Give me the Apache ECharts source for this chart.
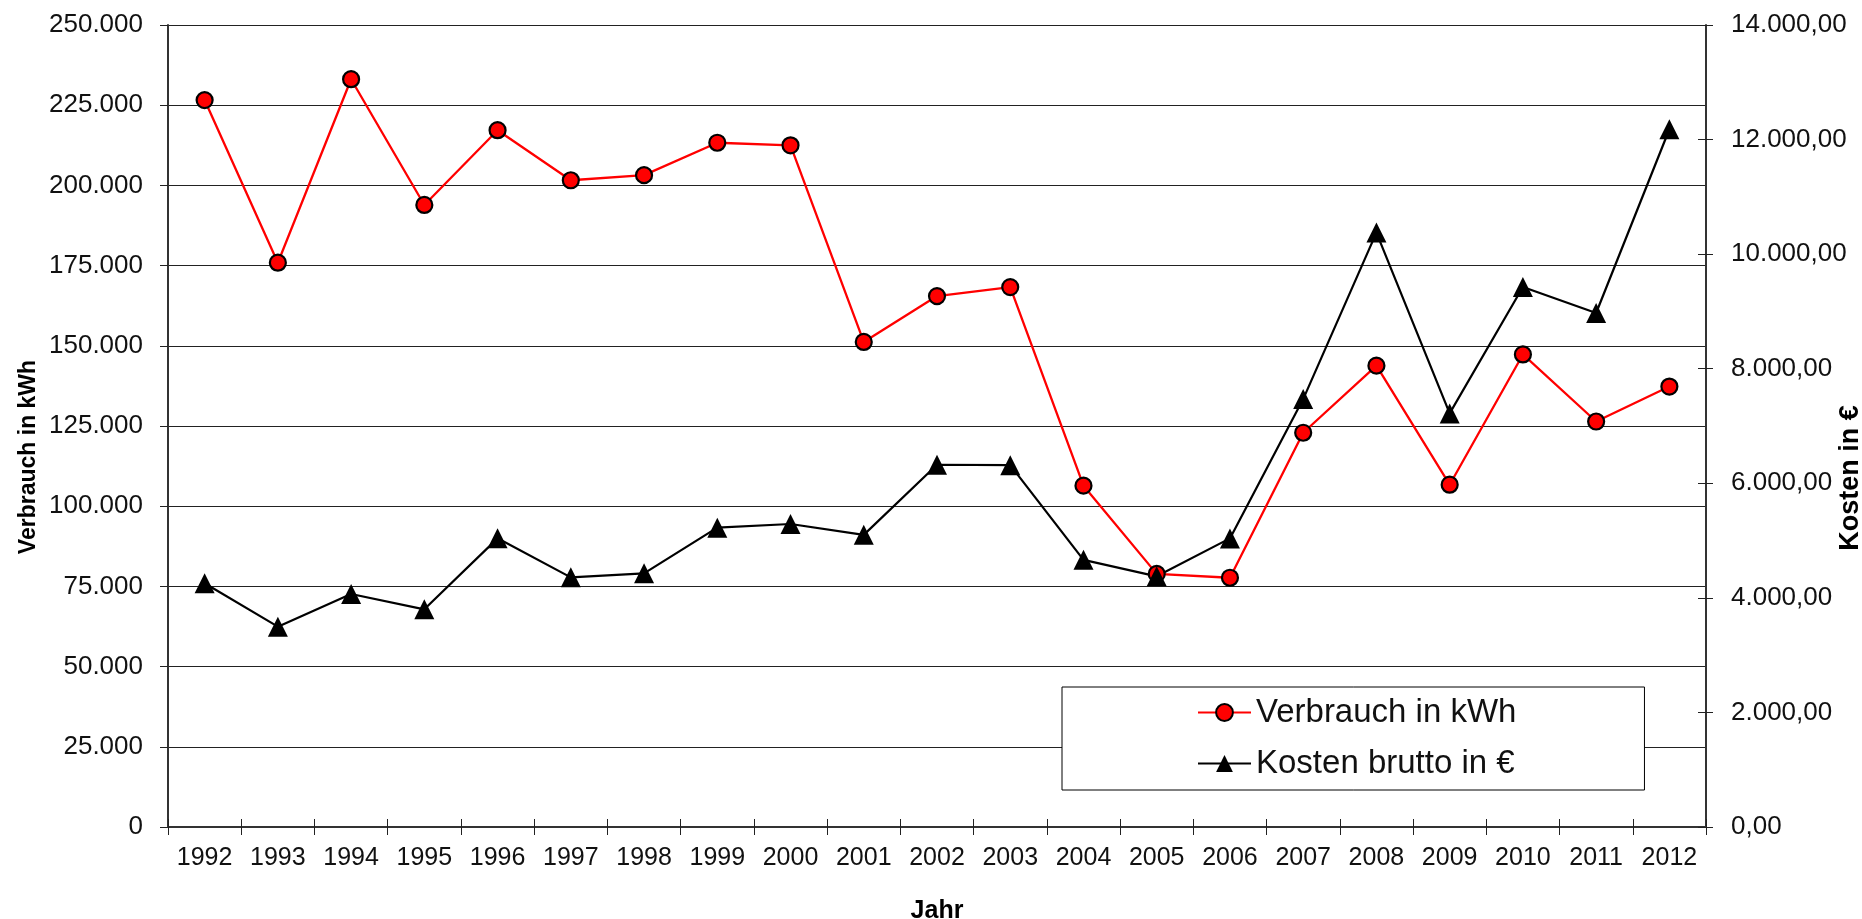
<!DOCTYPE html>
<html>
<head>
<meta charset="utf-8">
<script src="https://cdn.jsdelivr.net/npm/echarts@6/dist/echarts.min.js"></script>
<style>
html,body{margin:0;padding:0;background:#fff;}
#chart{width:1862px;height:919px;}
</style>
</head>
<body>
<div id="chart"></div>
<script>
const years = ['1992','1993','1994','1995','1996','1997','1998','1999','2000','2001','2002','2003','2004','2005','2006','2007','2008','2009','2010','2011','2012'];
const verbrauch = [226600, 175900, 233100, 193900, 217200, 201600, 203200, 213300, 212500, 151200, 165500, 168300, 106400, 78900, 77700, 122900, 143800, 106700, 147300, 126400, 137300];
const kosten = [4254, 3497, 4067, 3800, 5039, 4358, 4428, 5225, 5289, 5100, 6324, 6316, 4664, 4376, 5038, 7470, 10376, 7220, 9426, 8973, 12180];
const seriesNames = ['Verbrauch in kWh', 'Kosten brutto in €'];
const axisNames = { x: 'Jahr', left: 'Verbrauch in kWh', right: 'Kosten in €' };

const FONT = "'Liberation Sans', Arial, Helvetica, sans-serif";

function groupThousands(n) {
  const s = String(Math.round(Math.abs(n)));
  return (n < 0 ? '-' : '') + s.replace(/\B(?=(\d{3})+(?!\d))/g, '.');
}
function fmtLeft(v) { return groupThousands(v); }
function fmtRight(v) {
  const whole = Math.floor(v);
  const cents = Math.round((v - whole) * 100);
  return groupThousands(whole) + ',' + String(cents).padStart(2, '0');
}

const chart = echarts.init(document.getElementById('chart'), null, { renderer: 'canvas' });
const axisLineStyle = { color: '#333', width: 2 };
const labelStyle = { fontFamily: FONT, fontSize: 25, color: '#111' };
const yLabelStyle = { fontFamily: FONT, fontSize: 26, color: '#111' };
const nameStyle = { fontFamily: FONT, fontWeight: 'bold', color: '#000' };

chart.setOption({
  animation: false,
  backgroundColor: '#fff',
  grid: { left: 168, right: 156, top: 25, bottom: 92, containLabel: false, outerBoundsMode: 'none' },
  legend: {
    orient: 'vertical',
    left: 1062, top: 687,
    padding: [9, 128, 10, 135],
    itemGap: 18, itemWidth: 53, itemHeight: 21,
    backgroundColor: '#fff', borderColor: '#000', borderWidth: 1,
    textStyle: { fontFamily: FONT, fontSize: 33, color: '#111', lineHeight: 32 },
    data: seriesNames
  },
  xAxis: [{
    type: 'category', data: years, boundaryGap: true, position: 'bottom',
    name: axisNames.x, nameLocation: 'middle', nameGap: 72, nameMoveOverlap: false,
    nameTextStyle: Object.assign({ fontSize: 25 }, nameStyle),
    axisLine: { show: true, lineStyle: axisLineStyle },
    axisTick: { show: true, interval: 0, alignWithLabel: false, inside: false, length: 8, lineStyle: { color: '#222', width: 1 } },
    axisLabel: Object.assign({ interval: 0, margin: 19 }, labelStyle),
    splitLine: { show: false }
  }, {
    type: 'category', data: years, boundaryGap: true, position: 'bottom', offset: 0,
    axisLine: { show: false },
    axisTick: { show: true, interval: 0, alignWithLabel: false, inside: true, length: 8, lineStyle: { color: '#222', width: 1 } },
    axisLabel: { show: false },
    splitLine: { show: false }
  }],
  yAxis: [{
    type: 'value', position: 'left', min: 0, max: 250000, interval: 25000,
    name: axisNames.left, nameLocation: 'middle', nameGap: 128, nameRotate: 90, nameMoveOverlap: false,
    nameTextStyle: Object.assign({ fontSize: 23, padding: [0, 62, 0, 0] }, nameStyle),
    axisLine: { show: true, lineStyle: axisLineStyle },
    axisTick: { show: true, inside: false, length: 8, lineStyle: { color: '#222', width: 1 } },
    axisLabel: Object.assign({ margin: 25, formatter: fmtLeft }, yLabelStyle),
    splitLine: { show: true, lineStyle: { color: '#222', width: 1.2 } }
  }, {
    type: 'value', position: 'right', min: 0, max: 14000, interval: 2000, offset: 0,
    name: axisNames.right, nameLocation: 'middle', nameGap: 131, nameRotate: 90, nameMoveOverlap: false,
    nameTextStyle: Object.assign({ fontSize: 27, padding: [0, 104, 0, 0] }, nameStyle),
    axisLine: { show: true, lineStyle: axisLineStyle },
    axisTick: { show: true, inside: false, length: 7, lineStyle: { color: '#222', width: 1 } },
    axisLabel: Object.assign({ margin: 25, formatter: fmtRight }, yLabelStyle),
    splitLine: { show: false }
  }, {
    type: 'value', position: 'right', min: 0, max: 14000, interval: 2000, offset: 0,
    axisLine: { show: false },
    axisTick: { show: true, inside: true, length: 8, lineStyle: { color: '#222', width: 1 } },
    axisLabel: { show: false },
    splitLine: { show: false }
  }],
  series: [{
    name: seriesNames[0], type: 'line', xAxisIndex: 0, yAxisIndex: 0, data: verbrauch,
    symbol: 'circle', symbolSize: 16,
    lineStyle: { color: '#ff0000', width: 2.3 },
    itemStyle: { color: '#ff0000', borderColor: '#000', borderWidth: 2.2 }
  }, {
    name: seriesNames[1], type: 'line', xAxisIndex: 0, yAxisIndex: 1, data: kosten,
    symbol: 'triangle', symbolSize: 20,
    lineStyle: { color: '#000', width: 2.2 },
    itemStyle: { color: '#000', borderWidth: 0 }
  }]
});
</script>
</body>
</html>
